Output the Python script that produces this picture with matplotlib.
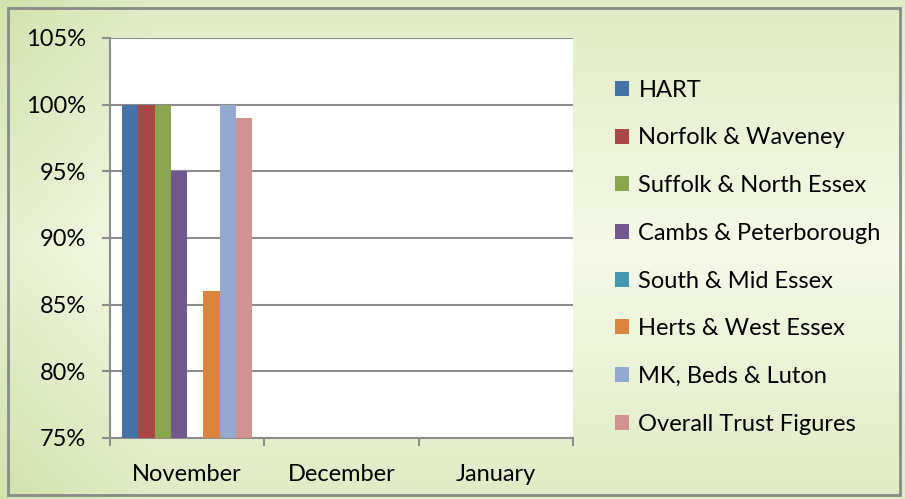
import numpy as np
import matplotlib.pyplot as plt
from matplotlib.patches import Rectangle

months = ["November", "December", "January"]
series = ["HART", "Norfolk & Waveney", "Suffolk & North Essex",
          "Cambs & Peterborough", "South & Mid Essex", "Herts & West Essex",
          "MK, Beds & Luton", "Overall Trust Figures"]
values = [
    [100, np.nan, np.nan],
    [100, np.nan, np.nan],
    [100, np.nan, np.nan],
    [95, np.nan, np.nan],
    [np.nan, np.nan, np.nan],
    [86, np.nan, np.nan],
    [100, np.nan, np.nan],
    [99, np.nan, np.nan],
]
colors = ["#4572a7", "#aa4643", "#89a54e", "#71588f",
          "#4198af", "#db843d", "#93a9cf", "#d19392"]

plt.rcParams['font.family'] = ['Lato', 'DejaVu Sans']
fs = 17

fig = plt.figure(figsize=(9.05, 4.99), dpi=100)

# green gradient background
bg = fig.add_axes([0, 0, 1, 1])
yy, xx = np.mgrid[0:1:200j, 0:1:400j]
t = np.clip(0.6 * (1 - np.abs(yy - 0.5) / 0.5) + 0.4 * np.clip(xx * 6, 0, 1), 0, 1)
dark = np.array([0.82, 0.89, 0.68])
light = np.array([0.96, 0.98, 0.91])
img = dark[None, None, :] * (1 - t[..., None]) + light[None, None, :] * t[..., None]
bg.imshow(img, extent=[0, 1, 0, 1], aspect='auto', origin='upper')
bg.add_patch(Rectangle((0.009, 0.008), 0.985, 0.976, fill=False,
                       edgecolor="#8a8a8a", linewidth=2))
bg.set_xlim(0, 1)
bg.set_ylim(0, 1)
bg.axis('off')

ax = fig.add_axes([110 / 905, 61 / 499, 463 / 905, 400 / 499])
ax.set_facecolor("white")
n = len(series)
w = 1 / (n + 1.5)
x = np.arange(len(months))
bars = []
for i, (name, vals) in enumerate(zip(series, values)):
    b = ax.bar(x - n * w / 2 + (i + 0.5) * w, vals, width=w, color=colors[i],
               label=name, zorder=3)
    bars.append(b)

ax.set_ylim(75, 105)
ax.set_yticks(range(75, 106, 5))
ax.set_yticklabels([f"{v}%" for v in range(75, 106, 5)])
ax.set_xlim(-0.5, 2.5)
ax.set_xticks([-0.5, 0.5, 1.5, 2.5], minor=False)
ax.set_xticklabels([])
ax.set_xticks(x, minor=True)
ax.set_xticklabels(months, minor=True)
ax.tick_params(axis='x', which='minor', length=0, pad=19, labelsize=fs)
ax.tick_params(axis='x', which='major', length=6, width=1.5, color="#8c8c8c")
ax.tick_params(axis='y', length=6, width=1.5, color="#8c8c8c", labelsize=fs, pad=11)
ax.grid(axis='y', color="#8c8c8c", linewidth=1.5, zorder=0)
for s in ["top", "right"]:
    ax.spines[s].set_visible(False)
for s in ["left", "bottom"]:
    ax.spines[s].set_color("#8c8c8c")
    ax.spines[s].set_linewidth(1.5)

leg = fig.legend(handles=bars, labels=series, loc='upper left',
                 bbox_to_anchor=(603 / 905, 1 - 68 / 499), frameon=False,
                 fontsize=fs, labelspacing=1.13, handlelength=0.6,
                 handleheight=0.6, handletextpad=0.4, borderpad=0)

fig.savefig("out.png", dpi=100)
